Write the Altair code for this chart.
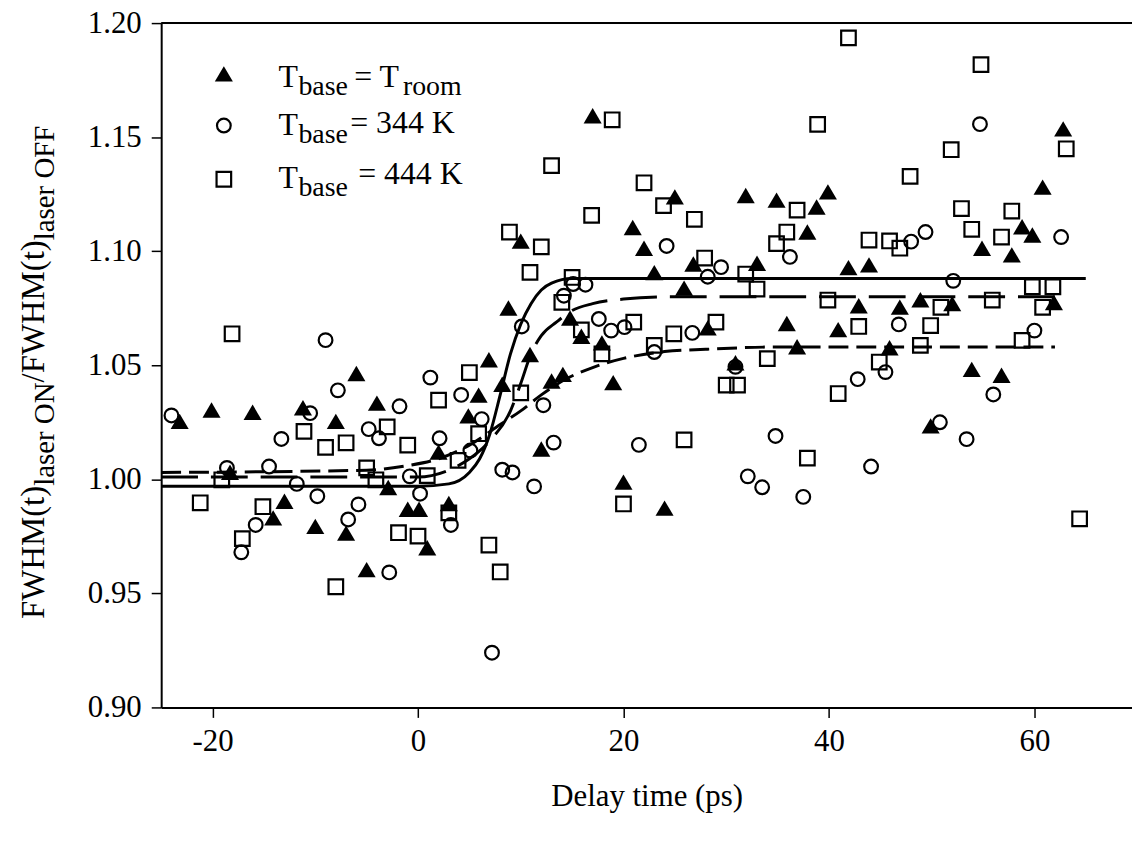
import altair as alt
import pandas as pd

# ---------------- data ----------------
tri_x = [-23.2, -20.1, -16.1, -11.2, -8.0, -6.0, -4.0, -18.3, -13.0, -14.1, -10.0, -7.0, -5.0, -2.9,
         -1.0, 0.1, 0.9, 3.0, 2.0, 4.9, 5.9, 6.9, 8.2, 8.8, 10.0, 10.9, 12.0, 13.0, 14.1, 14.8, 15.9,
         17.0, 17.9, 19.0, 20.0, 20.9, 22.0, 23.0, 24.0, 25.0, 25.9, 26.8, 28.2, 30.9, 31.9, 33.0,
         34.9, 35.9, 36.9, 37.9, 38.8, 39.9, 40.9, 41.9, 42.9, 43.9, 45.9, 46.9, 48.9, 49.9, 52.0,
         53.9, 54.9, 56.8, 57.8, 58.8, 59.8, 60.8, 61.9, 62.8]
tri_y = [1.025, 1.030, 1.029, 1.031, 1.025, 1.046, 1.033, 1.0027, 0.990, 0.9827, 0.979, 0.976, 0.960, 0.996,
         0.9865, 0.9865, 0.9696, 0.989, 1.0115, 1.0274, 1.0365, 1.052, 1.0413, 1.0747, 1.104, 1.0543, 1.0129,
         1.0427, 1.0456, 1.0703, 1.0623, 1.159, 1.0594, 1.042, 0.9984, 1.110, 1.1009, 1.0902, 0.987, 1.1234,
         1.0834, 1.094, 1.066, 1.0507, 1.124, 1.0943, 1.122, 1.0679, 1.0577, 1.108, 1.119, 1.1256, 1.0652,
         1.0924, 1.0757, 1.0936, 1.0573, 1.0751, 1.0783, 1.023, 1.0766, 1.0478, 1.1009, 1.0452, 1.098,
         1.1103, 1.1067, 1.1277, 1.0771, 1.1532]

circ_x = [-24.0, -18.6, -14.5, -13.3, -10.5, -9.0, -7.8, -4.8, -3.8, -1.8, 1.2, 2.1, 4.2, 5.1, 6.2,
          -11.8, -9.8, -15.8, -17.2, -6.8, -5.8, -0.8, 0.2, 3.2, -2.8, 7.2, 8.2, 9.2, 10.1, 11.3, 12.2,
          13.2, 14.2, 15.1, 16.3, 17.6, 18.8, 20.1, 21.5, 23.0, 24.2, 26.7, 28.2, 29.5, 30.9, 32.1, 33.5,
          34.8, 36.2, 37.5, 42.8, 44.1, 45.5, 46.8, 48.0, 49.4, 50.8, 52.1, 53.4, 54.7, 56.0, 60.0, 62.6]
circ_y = [1.028, 1.005, 1.0056, 1.0177, 1.029, 1.061, 1.039, 1.022, 1.018, 1.032, 1.0446, 1.018, 1.037,
          1.0126, 1.0264, 0.998, 0.9926, 0.980, 0.968, 0.9824, 0.989, 1.0013, 0.9937, 0.980, 0.9592, 0.924,
          1.0042, 1.003, 1.067, 0.9969, 1.0325, 1.0161, 1.0805, 1.0856, 1.0853, 1.0703, 1.0652, 1.0667,
          1.0151, 1.0558, 1.1023, 1.0642, 1.0888, 1.093, 1.0493, 1.0013, 0.9965, 1.019, 1.0975, 0.9923,
          1.0439, 1.0056, 1.047, 1.0679, 1.1042, 1.1084, 1.025, 1.087, 1.0176, 1.1557, 1.0372, 1.0652, 1.1062]

sq_x = [-18.1, -11.1, -9.0, -7.0, -3.0, -1.0, 2.0, 5.0, 5.9, 3.9, -19.1, -21.2, -15.1, -17.1, -5.0, -4.1,
        0.9, 3.0, -1.9, 0.0, 6.9, 8.0, -8.0, 8.9, 10.9, 12.0, 10.0, 13.0, 14.0, 15.0, 15.9, 16.9, 17.9,
        18.9, 20.0, 21.0, 22.0, 23.0, 23.9, 24.9, 25.9, 26.9, 27.9, 29.0, 30.0, 31.1, 31.9, 33.0, 34.0,
        34.9, 35.9, 36.9, 37.9, 38.9, 39.9, 40.9, 41.9, 42.9, 43.9, 44.9, 45.9, 46.9, 47.9, 48.9, 49.9,
        50.9, 51.9, 52.9, 53.9, 54.8, 55.9, 56.8, 57.8, 58.8, 59.8, 60.8, 61.8, 63.1, 64.4]
sq_y = [1.0638, 1.021, 1.014, 1.016, 1.023, 1.015, 1.0347, 1.0468, 1.020, 1.0083, 0.9998, 0.9897, 0.988,
        0.974, 1.005, 0.9998, 1.0016, 0.9853, 0.9766, 0.9751, 0.9712, 0.9594, 0.9529, 1.1084, 1.0907,
        1.1019, 1.0379, 1.1375, 1.0776, 1.0885, 1.0655, 1.1157, 1.055, 1.1576, 0.9892, 1.0689, 1.130,
        1.0587, 1.120, 1.0638, 1.0173, 1.114, 1.097, 1.0689, 1.0413, 1.0413, 1.090, 1.0834, 1.0529, 1.1033,
        1.1084, 1.118, 1.0093, 1.1556, 1.0786, 1.0376, 1.1935, 1.067, 1.1049, 1.0514, 1.1045, 1.1013,
        1.1328, 1.0587, 1.0674, 1.0754, 1.1445, 1.1187, 1.1096, 1.1818, 1.0786, 1.1062, 1.1176, 1.0609,
        1.0844, 1.0754, 1.0844, 1.1449, 0.9827]

# fitted curves
fit_solid_x = [-25, 0, 3, 5, 6, 7, 8, 9, 10, 11, 12, 13, 15, 20, 65]
fit_solid_y = [0.997, 0.997, 0.998, 1.003, 1.009, 1.020, 1.037, 1.055, 1.068, 1.077, 1.083, 1.086, 1.088, 1.088, 1.088]
fit_long_x = [-25, 0, 3, 5, 7, 9, 10, 11, 12, 13.5, 15, 17, 20, 25, 63]
fit_long_y = [1.001, 1.001, 1.004, 1.009, 1.017, 1.030, 1.042, 1.055, 1.063, 1.069, 1.074, 1.077, 1.079, 1.080, 1.080]
fit_short_x = [-25, -5, -1, 2, 5, 8, 10, 12, 14, 17, 20, 24, 28, 35, 62]
fit_short_y = [1.003, 1.004, 1.006, 1.009, 1.015, 1.024, 1.030, 1.037, 1.043, 1.049, 1.053, 1.056, 1.057, 1.058, 1.058]

x_ticks = [-20, 0, 20, 40, 60]
y_ticks = [0.90, 0.95, 1.00, 1.05, 1.10, 1.15, 1.20]

# ---------------- styling ----------------
FONT = "Liberation Serif"
W, H = 976, 688
X_DOM = [-25, 69.5]
Y_DOM = [0.90, 1.20]
TICK_FS = 31
TITLE_FS = 33
YSUB_FS = 29
LEG_FS = 32
SUB_FS = 28

xs = alt.Scale(domain=X_DOM, nice=False, zero=False)
ys = alt.Scale(domain=Y_DOM, nice=False, zero=False)
xax = alt.Axis(values=x_ticks, title="Delay time (ps)", labelFont=FONT, labelFontSize=TICK_FS,
               labelExpr="datum.value < 0 ? '-' + abs(datum.value) : '' + datum.value",
               titleFont=FONT, titleFontSize=31, titleFontWeight="normal", titleColor="black",
               labelColor="black", tickColor="black", domainColor="black", tickSize=10, tickWidth=1.5,
               domainWidth=2, grid=False, labelPadding=9, titlePadding=26, labelFlush=False)
yax = alt.Axis(values=y_ticks, format=".2f", title="", labelFont=FONT, labelFontSize=TICK_FS,
               labelColor="black", tickColor="black", domainColor="black", tickSize=10, tickWidth=1.5,
               domainWidth=2, grid=False, labelPadding=10, labelFlush=False)


def enc(ch):
    return ch.encode(x=alt.X("x:Q", scale=xs, axis=xax), y=alt.Y("y:Q", scale=ys, axis=yax))


def points(xv, yv, shape, filled, size):
    df = pd.DataFrame({"x": xv, "y": yv})
    m = alt.Chart(df).mark_point(shape=shape, filled=filled, size=size, color="black",
                                 strokeWidth=2.2, opacity=1)
    return enc(m)


def curve(xv, yv, dash):
    df = pd.DataFrame({"x": xv, "y": yv})
    kw = dict(color="black", strokeWidth=3, interpolate="monotone")
    if dash:
        kw["strokeDash"] = dash
    return enc(alt.Chart(df).mark_line(**kw))


TRI = "M-1,0.75L0,-0.95L1,0.75Z"

layers = [
    curve(fit_solid_x, fit_solid_y, None),
    curve(fit_long_x, fit_long_y, [37, 13]),
    curve(fit_short_x, fit_short_y, [20, 8]),
    points(circ_x, circ_y, "circle", False, 190),
    points(sq_x, sq_y, "square", False, 215),
    points(tri_x, tri_y, TRI, True, 330),
]

one = pd.DataFrame({"a": [0]})

# top frame line
layers.append(alt.Chart(one).mark_rule(color="black", strokeWidth=2).encode(
    x=alt.value(0), x2=alt.value(W), y=alt.value(0)))


def txt(s, px, py, fs, angle=0):
    kw = dict(text=s, font=FONT, fontSize=fs, color="black", align="left", baseline="alphabetic")
    if angle:
        kw["angle"] = angle
    return alt.Chart(one).mark_text(**kw).encode(x=alt.value(px), y=alt.value(py))


def sym(shape, filled, size, px, py):
    return alt.Chart(one).mark_point(shape=shape, filled=filled, size=size, color="black",
                                     strokeWidth=2.2, opacity=1).encode(x=alt.value(px), y=alt.value(py))


# legend (positions relative to plot origin)
ox, oy = 162, 21
layers += [
    sym(TRI, True, 330, 225 - ox, 73 - oy),
    sym("circle", False, 190, 225 - ox, 124 - oy),
    sym("square", False, 215, 225 - ox, 178 - oy),
    txt("T", 280 - ox, 85 - oy, LEG_FS), txt("base", 300 - ox, 93 - oy, SUB_FS),
    txt("= T", 356 - ox, 85 - oy, LEG_FS), txt("room", 405 - ox, 93 - oy, SUB_FS),
    txt("T", 280 - ox, 134 - oy, LEG_FS), txt("base", 300 - ox, 142 - oy, SUB_FS),
    txt("= 344 K", 352 - ox, 131 - oy, LEG_FS),
    txt("T", 280 - ox, 187 - oy, LEG_FS), txt("base", 300 - ox, 195 - oy, SUB_FS),
    txt("=  444 K", 360 - ox, 183 - oy, LEG_FS),
]

# rotated y-axis title with subscripts (reads bottom to top)
MAIN_X = 44 - ox
SUB_X = 54 - ox
yt = 620 - oy
segs = [("FWHM(t)", TITLE_FS, MAIN_X, 4.055), ("laser ON", YSUB_FS, SUB_X, 3.582),
        ("/FWHM(t)", TITLE_FS, MAIN_X, 4.333), ("laser OFF", YSUB_FS, SUB_X, 3.972)]
for s, fs, px, em in segs:
    layers.append(txt(s, px, yt, fs, angle=270))
    yt -= em * fs

chart = alt.layer(*layers).properties(
    width=W, height=H,
    autosize=alt.AutoSizeParams(type="none"),
    padding={"left": 154, "top": 13, "right": 0, "bottom": 110},
).configure_view(strokeWidth=0).configure(background="white")

chart.save("out.html", embed_options={"renderer": "svg", "actions": False})
